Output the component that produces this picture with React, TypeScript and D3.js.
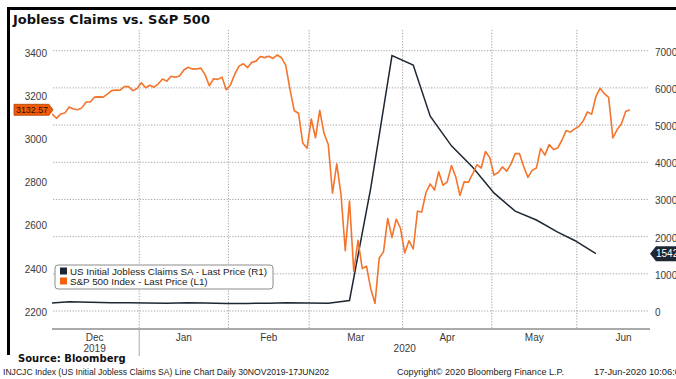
import React from 'react';
import * as d3 from 'd3';

const W = 676;
const H = 379;

// S&P 500 daily closes (L1), one per trading day, Dec 2 2019 .. Jun 17 2020
const spDec2019 = [3113.87, 3093.2, 3112.76, 3117.43, 3145.91, 3135.96, 3132.52, 3141.63, 3168.57, 3168.8, 3191.45, 3192.52, 3191.14, 3205.37, 3221.22, 3224.01, 3223.38, 3239.91, 3240.02, 3221.29, 3230.78];
const spJan2020 = [3257.85, 3234.85, 3246.28, 3237.18, 3253.05, 3274.7, 3265.35, 3288.13, 3283.15, 3289.29, 3316.81, 3329.62, 3320.79, 3321.75, 3325.54, 3295.47, 3243.63, 3276.24, 3273.4, 3283.66, 3225.52];
const spFeb2020 = [3248.92, 3297.59, 3334.69, 3345.78, 3327.71, 3352.09, 3357.75, 3379.45, 3373.94, 3380.16, 3370.29, 3386.15, 3373.23, 3337.75, 3225.89, 3128.21, 3116.39, 2978.76, 2954.22];
const spMar2020 = [3090.23, 3003.37, 3130.12, 3023.94, 2972.37, 2746.56, 2882.23, 2741.38, 2480.64, 2711.02, 2386.13, 2529.19, 2398.1, 2409.39, 2304.92, 2237.4, 2447.33, 2475.56, 2630.07, 2541.47, 2626.65, 2584.59];
const spApr2020 = [2470.5, 2526.9, 2488.65, 2663.68, 2659.41, 2749.98, 2789.82, 2761.63, 2846.06, 2783.36, 2799.55, 2874.56, 2823.16, 2736.56, 2799.31, 2797.8, 2836.74, 2878.48, 2863.39, 2939.51, 2912.43];
const spMay2020 = [2830.71, 2842.74, 2868.44, 2848.42, 2881.19, 2929.8, 2930.32, 2870.12, 2820.0, 2852.5, 2863.7, 2953.91, 2922.94, 2971.61, 2948.51, 2955.45, 2991.77, 3036.13, 3029.73, 3044.31];
const spJun2020 = [3055.73, 3080.82, 3122.87, 3112.35, 3193.93, 3232.39, 3207.18, 3190.14, 3002.1, 3041.31, 3066.59, 3124.74, 3132.57];
const spValues = [...spDec2019, ...spJan2020, ...spFeb2020, ...spMar2020, ...spApr2020, ...spMay2020, ...spJun2020];

// US initial jobless claims (R1), thousands, by week-ending date
const claimsWeeks = ['2019-11-30', '2019-12-07', '2019-12-14', '2019-12-21', '2019-12-28', '2020-01-04', '2020-01-11', '2020-01-18', '2020-01-25', '2020-02-01', '2020-02-08', '2020-02-15', '2020-02-22', '2020-02-29', '2020-03-07', '2020-03-14', '2020-03-21', '2020-03-28', '2020-04-04', '2020-04-11', '2020-04-18', '2020-04-25', '2020-05-02', '2020-05-09', '2020-05-16', '2020-05-23', '2020-05-30', '2020-06-06'];
const claimsValues = [203, 252, 235, 222, 224, 212, 207, 223, 216, 201, 205, 211, 220, 217, 211, 282, 3307, 6867, 6615, 5237, 4442, 3867, 3176, 2687, 2446, 2123, 1897, 1542];

// Market calendar
const marketHolidays = ['2019-11-28', '2019-12-25', '2020-01-01', '2020-01-20', '2020-02-17', '2020-04-10', '2020-05-25'];
const seriesStart = '2019-12-02';

const leftTicks = [2200, 2400, 2600, 2800, 3000, 3200, 3400];
const rightTicks = [0, 1000, 2000, 3000, 4000, 5000, 6000, 7000];
const monthLabels = ['Dec', 'Jan', 'Feb', 'Mar', 'Apr', 'May', 'Jun'];
const monthStarts = ['2019-12-01', '2020-01-01', '2020-02-01', '2020-03-01', '2020-04-01', '2020-05-01', '2020-06-01', '2020-07-01'];
const yearLabels = ['2019', '2020'];

const legendItems = ['US Initial Jobless Claims SA - Last Price (R1)', 'S&P 500 Index - Last Price (L1)'];
const titleText = 'Jobless Claims vs. S&P 500';
const sourceText = 'Source: Bloomberg';
const footerLeft = 'INJCJC Index (US Initial Jobless Claims SA) Line Chart  Daily 30NOV2019-17JUN202';
const footerMid = 'Copyright\u00a9 2020 Bloomberg Finance L.P.';
const footerRight = '17-Jun-2020 10:06:0';

const ORANGE = '#f4742b';
const NAVY = '#1d2733';
const GRID = '#8a8a8a';
const TXT = '#3a3a3a';
const FONT = '"Liberation Sans", Arial, sans-serif';

const fmt = d3.timeFormat('%Y-%m-%d');
const parse = d3.timeParse('%Y-%m-%d');

function buildCalendar() {
  const days = d3.timeDay.range(parse('2019-11-20')!, parse('2020-07-03')!);
  const hol = new Set(marketHolidays);
  const trading = days.filter((d) => d.getDay() !== 0 && d.getDay() !== 6 && !hol.has(fmt(d))).map(fmt);
  const base = trading.indexOf(seriesStart);
  const onOrBefore = (s: string) => {
    let k = -1;
    for (let i = 0; i < trading.length; i++) if (trading[i] <= s) k = i;
    return k - base;
  };
  const onOrAfter = (s: string) => {
    for (let i = 0; i < trading.length; i++) if (trading[i] >= s) return i - base;
    return trading.length - base;
  };
  return { onOrBefore, onOrAfter };
}

export default function App() {
  const cal = buildCalendar();

  const plotLeft = 50;
  const plotRight = 649;
  const plotTop = 30;
  const axisY = 329;

  const x = d3.scaleLinear().domain([-0.5, 140.5]).range([plotLeft, plotRight]);
  const yL = d3.scaleLinear().domain([2200, 3400]).range([311.4, 52]);
  const yR = d3.scaleLinear().domain([0, 7000]).range([311, 50.7]);

  const spPts: [number, number][] = spValues.map((v, i) => [i, v]);
  const clPts: [number, number][] = claimsWeeks.map((w, i) => [cal.onOrBefore(w), claimsValues[i]]);

  const spLine = d3.line<[number, number]>().x((d) => x(d[0])).y((d) => yL(d[1]));
  const clLine = d3.line<[number, number]>().x((d) => x(d[0])).y((d) => yR(d[1]));

  const bounds = monthStarts.map((m, i) => (i === 0 ? x(-0.5) : x(cal.onOrAfter(m) - 0.5)));
  const monthCenters = monthLabels.map((_, i) => (bounds[i] + bounds[i + 1]) / 2);
  const yearCenters = [monthCenters[0], (bounds[1] + bounds[7]) / 2];

  const lastSp = spValues[spValues.length - 1];
  const lastCl = claimsValues[claimsValues.length - 1];
  const ly = yL(lastSp);
  const ry = yR(lastCl);

  return (
    <svg width={W} height={H} style={{ position: 'absolute', left: 0, top: 0, background: '#fff' }} fontFamily={FONT}>
      <defs>
        <clipPath id="plotclip">
          <rect x={52} y={plotTop} width={plotRight - 52} height={axisY - plotTop} />
        </clipPath>
      </defs>
      <rect x={0} y={0} width={W} height={H} fill="#fff" />
      {/* frame */}
      <rect x={7} y={7} width={W - 7} height={3} fill="#000" />
      <rect x={7} y={7} width={3} height={348} fill="#000" />

      <text x={13} y={24} fontFamily='"DejaVu Sans", Verdana, sans-serif' fontWeight="bold" fontSize={13} fill="#111">
        {titleText}
      </text>

      {/* horizontal grid (right axis) */}
      {rightTicks.map((t) => (
        <line key={'hg' + t} x1={53} x2={plotRight} y1={yR(t)} y2={yR(t)} stroke={GRID} strokeWidth={0.8} strokeDasharray="1.2,1.6" />
      ))}
      {/* vertical grid at month boundaries */}
      {bounds.slice(1, 7).map((bx, i) => (
        <line key={'vg' + i} x1={bx} x2={bx} y1={plotTop} y2={axisY} stroke={GRID} strokeWidth={0.8} strokeDasharray="1.2,1.6" />
      ))}

      {/* x axis */}
      <line x1={52} x2={650} y1={axisY} y2={axisY} stroke="#555" strokeWidth={1} />
      <line x1={bounds[1]} x2={bounds[1]} y1={axisY} y2={356} stroke="#aaa" strokeWidth={1} />
      {monthLabels.map((m, i) => (
        <text key={m} x={monthCenters[i]} y={341} textAnchor="middle" fontSize={10} fill={TXT}>
          {m}
        </text>
      ))}
      {yearLabels.map((yl, i) => (
        <text key={yl} x={yearCenters[i]} y={352} textAnchor="middle" fontSize={10} fill={TXT}>
          {yl}
        </text>
      ))}

      {/* left axis labels */}
      {leftTicks.map((t) => (
        <text key={'lt' + t} x={47} y={yL(t) + 4.5} textAnchor="end" fontSize={10} fill={TXT}>
          {t}
        </text>
      ))}
      {/* right axis labels */}
      {rightTicks.map((t) => (
        <text key={'rt' + t} x={655} y={yR(t) + 5} textAnchor="start" fontSize={10} fill={TXT}>
          {t}
        </text>
      ))}

      {/* lines */}
      <g clipPath="url(#plotclip)">
        <path d={clLine(clPts) || ''} fill="none" stroke={NAVY} strokeWidth={1.5} />
        <path d={spLine(spPts) || ''} fill="none" stroke={ORANGE} strokeWidth={1.6} strokeLinejoin="round" />
      </g>

      {/* legend */}
      <rect x={55} y={265} width={218} height={24} rx={3} fill="#fff" stroke="#8c8c8c" strokeWidth={1} />
      <rect x={60} y={267.5} width={7} height={7} fill={NAVY} />
      <rect x={60} y={277.5} width={7} height={7} fill="#f25f0e" />
      {legendItems.map((t, i) => (
        <text key={t} x={70} y={274.5 + i * 10} fontSize={9.8} fill="#222">
          {t}
        </text>
      ))}

      {/* last price labels */}
      <path
        d={`M14,${ly - 5.5} L49,${ly - 5.5} L53,${ly} L49,${ly + 5.5} L14,${ly + 5.5} Z`}
        fill="#f25a0a"
        stroke="#a84300"
        strokeWidth={0.8}
      />
      <text x={16} y={ly + 3.6} fontSize={9.5} fill="#2a1200" textLength={32} lengthAdjust="spacingAndGlyphs">
        {lastSp.toFixed(2)}
      </text>
      <path d={`M650,${ry} L656,${ry - 7.5} L680,${ry - 7.5} L680,${ry + 7.5} L656,${ry + 7.5} Z`} fill={NAVY} />
      <text x={656} y={ry + 3.8} fontSize={10} fill="#fff">
        {lastCl.toFixed(2)}
      </text>

      {/* footer */}
      <text x={18} y={362} fontFamily='"DejaVu Sans", Verdana, sans-serif' fontWeight="bold" fontSize={10} fill="#111">
        {sourceText}
      </text>
      <text x={3} y={375} fontSize={9} fill="#222" textLength={326} lengthAdjust="spacingAndGlyphs">
        {footerLeft}
      </text>
      <text x={397} y={375} fontSize={9} fill="#222" textLength={167} lengthAdjust="spacingAndGlyphs">
        {footerMid}
      </text>
      <text x={594} y={375} fontSize={9} fill="#222" textLength={86} lengthAdjust="spacingAndGlyphs">
        {footerRight}
      </text>
    </svg>
  );
}
